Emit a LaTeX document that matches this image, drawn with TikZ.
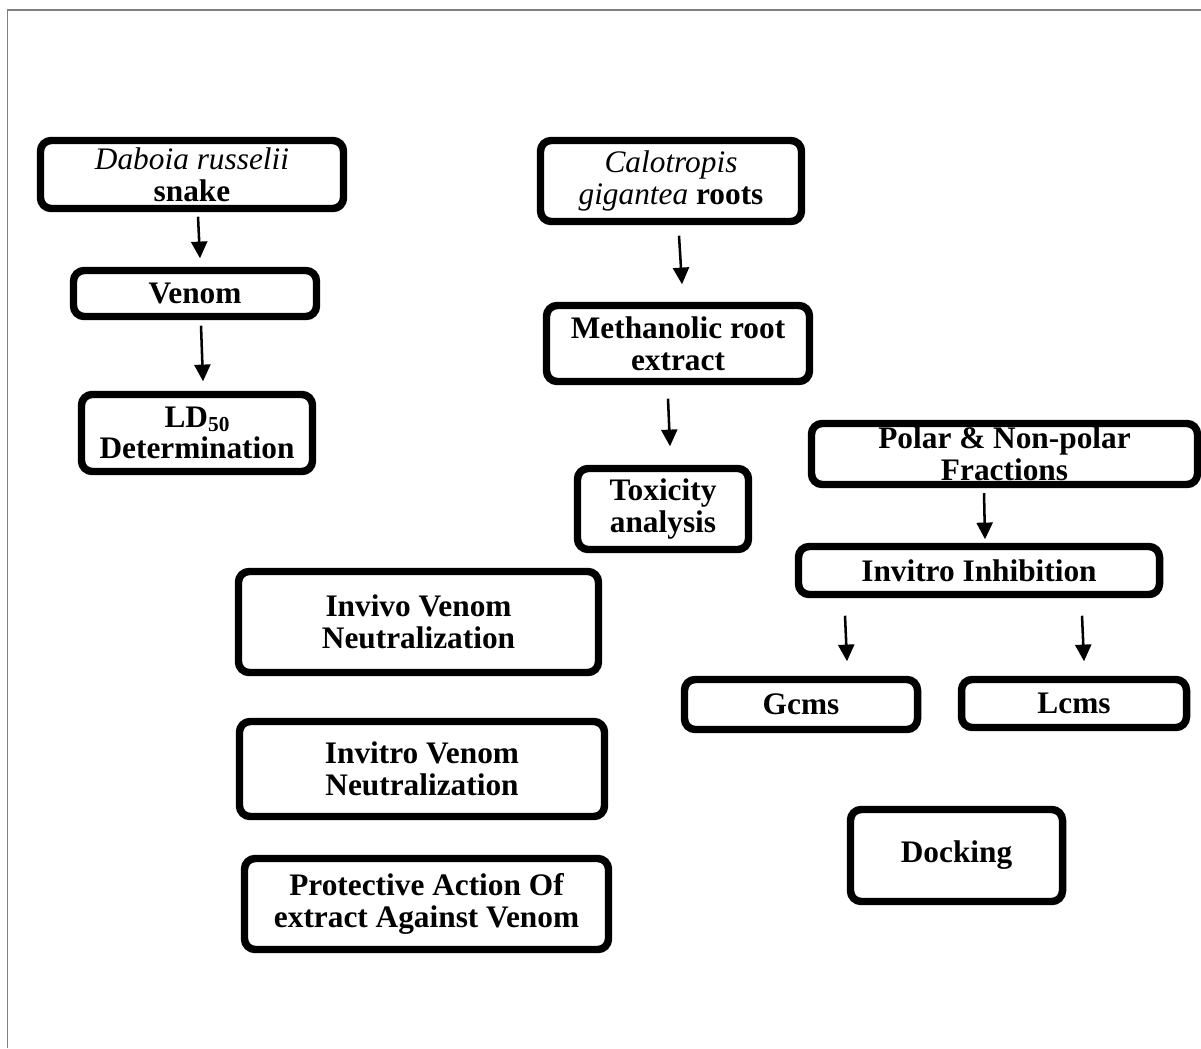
\documentclass[tikz,border=0pt]{standalone}
\usepackage{fontspec}
\setmainfont{Liberation Serif}
\usetikzlibrary{arrows.meta,calc,shadows}
\newcommand{\lowsub}[1]{\raisebox{-0.25ex}{\fontsize{16}{16}\selectfont #1}}
\begin{document}
\begin{tikzpicture}[x=0.75pt,y=-0.75pt,
  box/.style={draw=black,line width=5.6pt,rounded corners=8pt,fill=white,
    inner sep=0pt,align=center,
    font=\fontsize{23.5}{24}\selectfont\bfseries,
    drop shadow={shadow xshift=1.5pt,shadow yshift=-2.5pt,fill=black,opacity=0.25}},
  arr/.style={line width=1.9pt,-{Triangle[width=12pt,length=12.5pt]}},
  frame/.style={draw=gray,line width=1.2pt}]
\useasboundingbox (0,0) rectangle (1201,1048);
\draw[frame] (7.5,1048) -- (7.5,10) -- (1201,10);

\node[box,minimum width=303*0.75pt,minimum height=68*0.75pt] (dab) at (192,174.5) {{\mdseries\itshape Daboia russelii}\\snake};
\node[box,minimum width=243*0.75pt,minimum height=46*0.75pt] (ven) at (195,293.5) {Venom};
\node[box,minimum width=231*0.75pt,minimum height=77*0.75pt] (ld) at (197,433) {LD\lowsub{50}\\[-1pt]Determination};
\node[box,minimum width=261*0.75pt,minimum height=81*0.75pt] (cal) at (671,181) {{\mdseries\itshape Calotropis}\\{\mdseries\itshape gigantea} roots};
\node[box,minimum width=263*0.75pt,minimum height=76*0.75pt] (met) at (678,343.5) {Methanolic root\\extract};
\node[box,minimum width=171*0.75pt,minimum height=81*0.75pt] (tox) at (663,509) {Toxicity\\analysis};
\node[box,minimum width=386*0.75pt,minimum height=61*0.75pt] (pol) at (1004.5,454) {Polar \& Non-polar\\Fractions};
\node[box,minimum width=361*0.75pt,minimum height=48*0.75pt] (inh) at (979,570.5) {Invitro Inhibition};
\node[box,minimum width=233*0.75pt,minimum height=50*0.75pt] (gc) at (801,704.5) {Gcms};
\node[box,minimum width=225*0.75pt,minimum height=48*0.75pt] (lc) at (1074,703.5) {Lcms};
\node[box,minimum width=360*0.75pt,minimum height=101*0.75pt] (inv) at (418.5,622) {Invivo Venom\\Neutralization};
\node[box,minimum width=365*0.75pt,minimum height=95*0.75pt] (vit) at (422,769) {Invitro Venom\\Neutralization};
\node[box,minimum width=364*0.75pt,minimum height=91*0.75pt] (pro) at (426.5,904) {Protective Action Of\\extract Against Venom};
\node[box,minimum width=212*0.75pt,minimum height=92*0.75pt] (dock) at (956.5,855.5) {Docking};

\draw[arr] ($(dab.south)+(6,4.5)$) -- ($(ven.north)+(5,-8.5)$);
\draw[arr] ($(ven.south)+(6,5.5)$) -- ($(ld.north)+(6,-9.5)$);
\draw[arr] ($(cal.south)+(8,10.5)$) -- ($(met.north)+(4,-17.5)$);
\draw[arr] ($(met.south)+(-10,13.5)$) -- ($(tox.north)+(7,-18.5)$);
\draw[arr] ($(pol.south)+(-20.5,5)$) -- ($(inh.north)+(6,-3.5)$);
\draw[arr] ($(inh.south)+(-134,17.5)$) -- ($(gc.north)+(46,-14.5)$);
\draw[arr] ($(inh.south)+(103,17.5)$) -- ($(lc.north)+(10,-14.5)$);
\end{tikzpicture}
\end{document}
